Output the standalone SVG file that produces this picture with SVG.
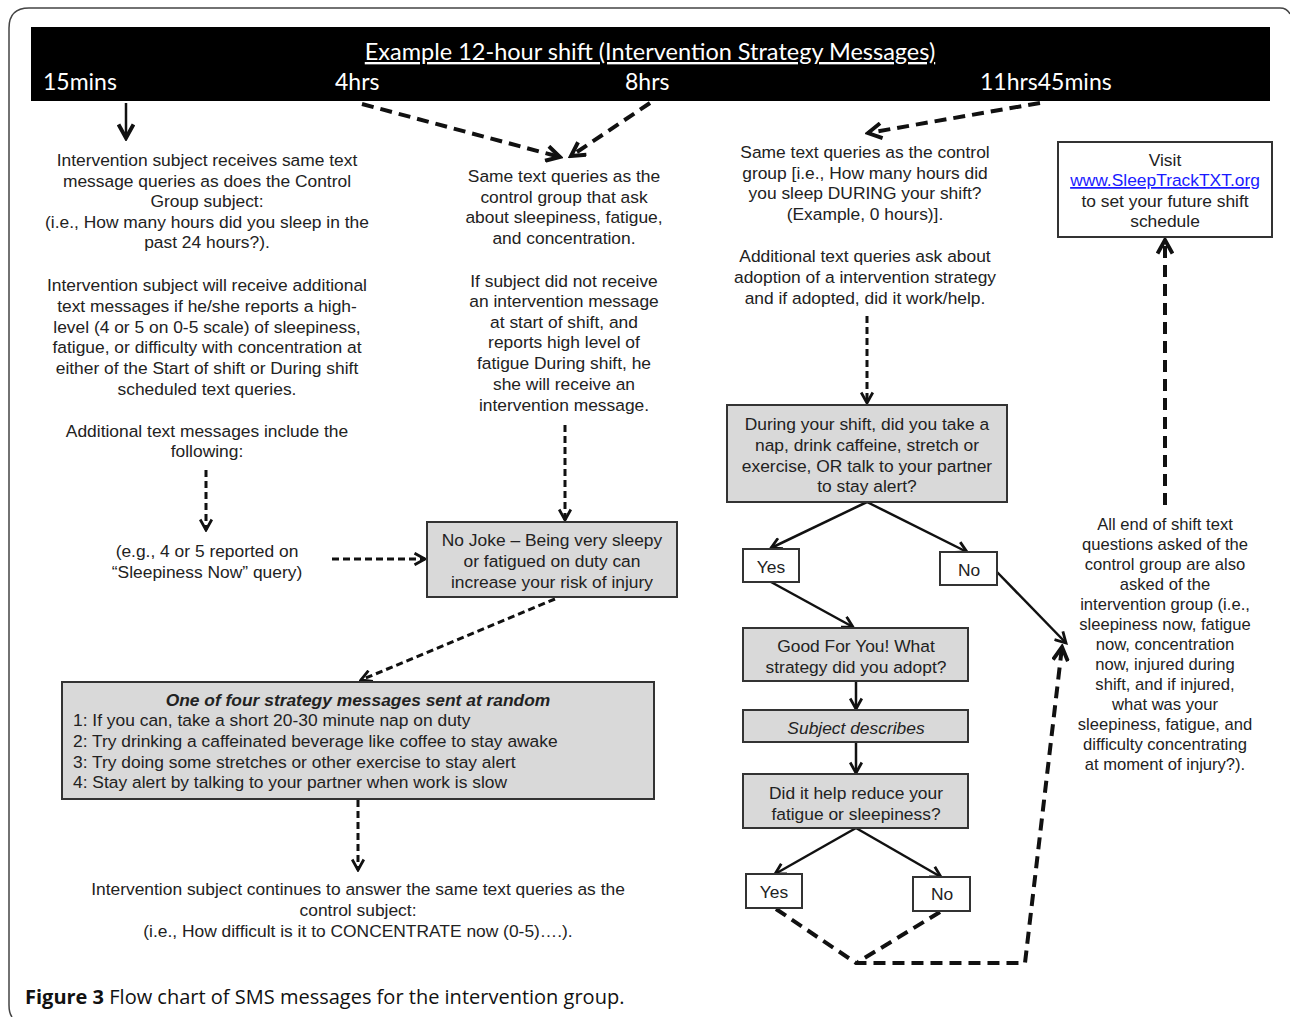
<svg xmlns="http://www.w3.org/2000/svg" width="1290" height="1017" viewBox="0 0 1290 1017">
<defs>
<style>
.t{font-family:"Liberation Sans",Arial,sans-serif;font-size:17.4px;fill:#222;text-anchor:middle}
.ts{font-size:16.6px}
.tl{font-family:"Liberation Sans",Arial,sans-serif;font-size:17.4px;fill:#222}
.hd{font-family:Lato,"Open Sans",sans-serif;fill:#fff}
.box{fill:#d9d9d9;stroke:#333;stroke-width:2}
.wbox{fill:#fff;stroke:#333;stroke-width:2}
.solid{stroke:#111;stroke-width:2.5;fill:none}
.dash{stroke:#111;stroke-width:4;stroke-dasharray:12 7;fill:none}
.dash2{stroke:#111;stroke-width:3;stroke-dasharray:7 4;fill:none}
</style>
<marker id="big" viewBox="0 0 12 12" refX="10" refY="6" markerWidth="18" markerHeight="18" markerUnits="userSpaceOnUse" orient="auto">
<path d="M1,1 L10,6 L1,11" fill="none" stroke="#111" stroke-width="2.6" stroke-dasharray="none"/>
</marker>
<marker id="mid" viewBox="0 0 12 12" refX="10" refY="6" markerWidth="14" markerHeight="14" markerUnits="userSpaceOnUse" orient="auto">
<path d="M1,1 L10,6 L1,11" fill="none" stroke="#111" stroke-width="2.4" stroke-dasharray="none"/>
</marker>
</defs>
<rect width="1290" height="1017" fill="#fff"/>
<path d="M12,1017 Q9,1013 9,1005 V28 Q9,8 29,8 H1280 Q1287,8 1290,14" fill="none" stroke="#444" stroke-width="1.5"/>

<g id="timeline">
<rect x="31" y="27" width="1239" height="74" fill="#000"/>
<text class="hd" x="650" y="60" font-size="23.5" text-anchor="middle" text-decoration="underline">Example 12-hour shift (Intervention Strategy Messages)</text>
<text class="hd" x="43" y="90" font-size="23">15mins</text>
<text class="hd" x="335" y="90" font-size="23">4hrs</text>
<text class="hd" x="625" y="90" font-size="23">8hrs</text>
<text class="hd" x="980" y="90" font-size="23">11hrs45mins</text>
</g>

<g id="connectors">
<line class="solid" x1="126" y1="103" x2="126" y2="138" stroke-width="4" marker-end="url(#big)"/>
<line class="dash" x1="362" y1="104" x2="560" y2="157" marker-end="url(#big)"/>
<line class="dash" x1="650" y1="103" x2="571" y2="156" marker-end="url(#big)"/>
<line class="dash" x1="1040" y1="103" x2="868" y2="133" marker-end="url(#big)"/>
<line class="dash2" x1="206" y1="470" x2="206" y2="530" marker-end="url(#mid)"/>
<line class="dash2" x1="332" y1="559" x2="425" y2="559" marker-end="url(#mid)"/>
<line class="dash2" x1="565" y1="425" x2="565" y2="520" marker-end="url(#mid)"/>
<line class="dash2" x1="555" y1="599" x2="361" y2="680" marker-end="url(#mid)"/>
<line class="dash2" x1="358" y1="800" x2="358" y2="870" stroke-width="3.5" marker-end="url(#mid)"/>
<line class="dash2" x1="867" y1="316" x2="867" y2="403" marker-end="url(#mid)"/>
<line class="dash" x1="1165" y1="505" x2="1165" y2="240" marker-end="url(#big)"/>
<line class="solid" x1="867" y1="502" x2="771" y2="548" marker-end="url(#mid)"/>
<line class="solid" x1="867" y1="502" x2="967" y2="552" marker-end="url(#mid)"/>
<line class="solid" x1="771" y1="582" x2="853" y2="627" marker-end="url(#mid)"/>
<line class="solid" x1="997" y1="572" x2="1066" y2="643" marker-end="url(#mid)"/>
<line class="solid" x1="856" y1="681" x2="856" y2="709" marker-end="url(#mid)"/>
<line class="solid" x1="856" y1="742" x2="856" y2="773" marker-end="url(#mid)"/>
<line class="solid" x1="856" y1="828" x2="775" y2="874" marker-end="url(#mid)"/>
<line class="solid" x1="856" y1="828" x2="941" y2="877" marker-end="url(#mid)"/>
<path class="dash" d="M776,909 L856,963 L1025,963 L1062,647" marker-end="url(#big)"/>
<path class="dash" d="M940,912 L858,962"/>
</g>

<g id="n-left-intro">
<text class="t" x="207" y="166">Intervention subject receives same text</text>
<text class="t" x="207" y="187">message queries as does the Control</text>
<text class="t" x="207" y="207">Group subject:</text>
<text class="t" x="207" y="228">(i.e., How many hours did you sleep in the</text>
<text class="t" x="207" y="248">past 24 hours?).</text>
<text class="t" x="207" y="291">Intervention subject will receive additional</text>
<text class="t" x="207" y="312">text messages if he/she reports a high-</text>
<text class="t" x="207" y="333">level (4 or 5 on 0-5 scale) of sleepiness,</text>
<text class="t" x="207" y="353">fatigue, or difficulty with concentration at</text>
<text class="t" x="207" y="374">either of the Start of shift or During shift</text>
<text class="t" x="207" y="395">scheduled text queries.</text>
<text class="t" x="207" y="437">Additional text messages include the</text>
<text class="t" x="207" y="457">following:</text>
</g>

<g id="n-left-example">
<text class="t" x="207" y="557">(e.g., 4 or 5 reported on</text>
<text class="t" x="207" y="578">“Sleepiness Now” query)</text>
</g>

<g id="n-mid-text">
<text class="t" x="564" y="182">Same text queries as the</text>
<text class="t" x="564" y="203">control group that ask</text>
<text class="t" x="564" y="223">about sleepiness, fatigue,</text>
<text class="t" x="564" y="244">and concentration.</text>
<text class="t" x="564" y="287">If subject did not receive</text>
<text class="t" x="564" y="307">an intervention message</text>
<text class="t" x="564" y="328">at start of shift, and</text>
<text class="t" x="564" y="348">reports high level of</text>
<text class="t" x="564" y="369">fatigue During shift, he</text>
<text class="t" x="564" y="390">she will receive an</text>
<text class="t" x="564" y="411">intervention message.</text>
</g>

<g id="n-nojoke">
<rect class="box" x="427" y="522" width="250" height="75"/>
<text class="t" x="552" y="546">No Joke – Being very sleepy</text>
<text class="t" x="552" y="567">or fatigued on duty can</text>
<text class="t" x="552" y="588">increase your risk of injury</text>
</g>

<g id="n-strategy">
<rect class="box" x="62" y="682" width="592" height="117"/>
<text class="t" x="358" y="706" font-weight="bold" font-style="italic">One of four strategy messages sent at random</text>
<text class="tl" x="73" y="726">1: If you can, take a short 20-30 minute nap on duty</text>
<text class="tl" x="73" y="747">2: Try drinking a caffeinated beverage like coffee to stay awake</text>
<text class="tl" x="73" y="768">3: Try doing some stretches or other exercise to stay alert</text>
<text class="tl" x="73" y="788">4: Stay alert by talking to your partner when work is slow</text>
</g>

<g id="n-continue">
<text class="t" x="358" y="895">Intervention subject continues to answer the same text queries as the</text>
<text class="t" x="358" y="916">control subject:</text>
<text class="t" x="358" y="937">(i.e., How difficult is it to CONCENTRATE now (0-5)….).</text>
</g>

<g id="n-right-text">
<text class="t" x="865" y="158">Same text queries as the control</text>
<text class="t" x="865" y="179">group [i.e., How many hours did</text>
<text class="t" x="865" y="199">you sleep DURING your shift?</text>
<text class="t" x="865" y="220">(Example, 0 hours)].</text>
<text class="t" x="865" y="262">Additional text queries ask about</text>
<text class="t" x="865" y="283">adoption of a intervention strategy</text>
<text class="t" x="865" y="304">and if adopted, did it work/help.</text>
</g>

<g id="n-during">
<rect class="box" x="727" y="405" width="280" height="97"/>
<text class="t" x="867" y="430">During your shift, did you take a</text>
<text class="t" x="867" y="451">nap, drink caffeine, stretch or</text>
<text class="t" x="867" y="472">exercise, OR talk to your partner</text>
<text class="t" x="867" y="492">to stay alert?</text>
</g>

<g id="n-yes1">
<rect class="wbox" x="743" y="549" width="56" height="33"/>
<text class="t" x="771" y="573">Yes</text>
</g>
<g id="n-no1">
<rect class="wbox" x="940" y="552" width="57" height="33"/>
<text class="t" x="969" y="576">No</text>
</g>

<g id="n-goodforyou">
<rect class="box" x="743" y="628" width="225" height="53"/>
<text class="t" x="856" y="652">Good For You! What</text>
<text class="t" x="856" y="673">strategy did you adopt?</text>
</g>

<g id="n-describes">
<rect class="box" x="743" y="710" width="225" height="32"/>
<text class="t" x="856" y="734" font-style="italic">Subject describes</text>
</g>

<g id="n-didithelp">
<rect class="box" x="743" y="774" width="225" height="54"/>
<text class="t" x="856" y="799">Did it help reduce your</text>
<text class="t" x="856" y="820">fatigue or sleepiness?</text>
</g>

<g id="n-yes2">
<rect class="wbox" x="746" y="874" width="56" height="34"/>
<text class="t" x="774" y="898">Yes</text>
</g>
<g id="n-no2">
<rect class="wbox" x="913" y="877" width="57" height="34"/>
<text class="t" x="942" y="900">No</text>
</g>

<g id="n-visit">
<rect class="wbox" x="1058" y="142" width="214" height="95"/>
<text class="t" x="1165" y="166">Visit</text>
<text class="t" x="1165" y="186" style="fill:#1a1aff" text-decoration="underline">www.SleepTrackTXT.org</text>
<text class="t" x="1165" y="207">to set your future shift</text>
<text class="t" x="1165" y="227">schedule</text>
</g>

<g id="n-endofshift">
<text class="t ts" x="1165" y="530">All end of shift text</text>
<text class="t ts" x="1165" y="550">questions asked of the</text>
<text class="t ts" x="1165" y="570">control group are also</text>
<text class="t ts" x="1165" y="590">asked of the</text>
<text class="t ts" x="1165" y="610">intervention group (i.e.,</text>
<text class="t ts" x="1165" y="630">sleepiness now, fatigue</text>
<text class="t ts" x="1165" y="650">now, concentration</text>
<text class="t ts" x="1165" y="670">now, injured during</text>
<text class="t ts" x="1165" y="690">shift, and if injured,</text>
<text class="t ts" x="1165" y="710">what was your</text>
<text class="t ts" x="1165" y="730">sleepiness, fatigue, and</text>
<text class="t ts" x="1165" y="750">difficulty concentrating</text>
<text class="t ts" x="1165" y="770">at moment of injury?).</text>
</g>

<text x="25" y="1004" font-family="'Open Sans',sans-serif" font-size="20" fill="#111"><tspan font-weight="bold">Figure 3</tspan> Flow chart of SMS messages for the intervention group.</text>
</svg>
